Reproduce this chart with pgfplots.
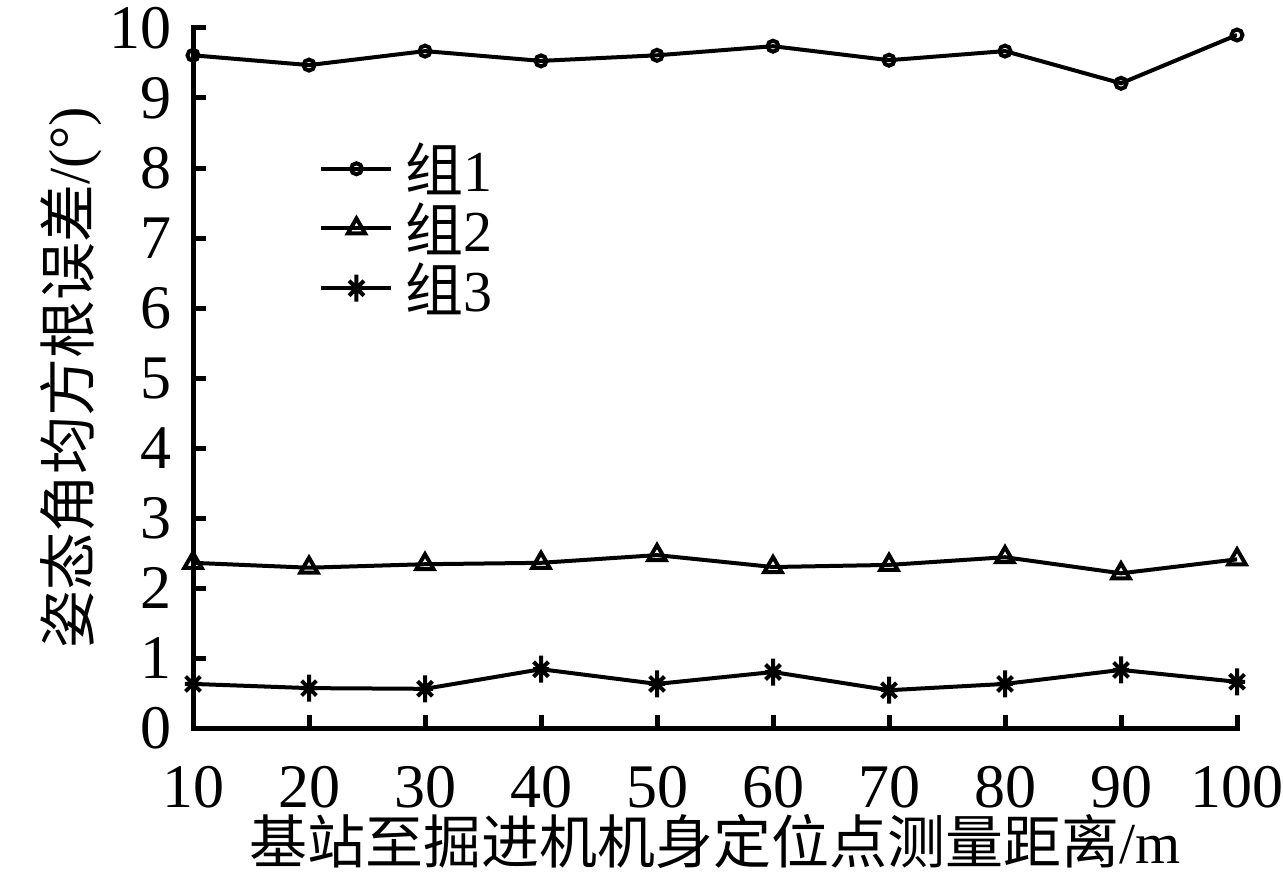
\documentclass[border=0pt]{standalone}
\usepackage{pgfplots}
\pgfplotsset{compat=1.18}
\usepackage{fontspec}
\setmainfont{Liberation Serif}
\newfontfamily\cjk{Noto Sans CJK SC}
\pgfdeclareplotmark{ast8}{%
  \pgfpathmoveto{\pgfqpoint{0pt}{\pgfplotmarksize}}%
  \pgfpathlineto{\pgfqpoint{0pt}{-\pgfplotmarksize}}%
  \pgfpathmoveto{\pgfqpoint{-0.6\pgfplotmarksize}{0pt}}%
  \pgfpathlineto{\pgfqpoint{0.6\pgfplotmarksize}{0pt}}%
  \pgfpathmoveto{\pgfqpoint{-0.55\pgfplotmarksize}{-0.55\pgfplotmarksize}}%
  \pgfpathlineto{\pgfqpoint{0.55\pgfplotmarksize}{0.55\pgfplotmarksize}}%
  \pgfpathmoveto{\pgfqpoint{-0.55\pgfplotmarksize}{0.55\pgfplotmarksize}}%
  \pgfpathlineto{\pgfqpoint{0.55\pgfplotmarksize}{-0.55\pgfplotmarksize}}%
  \pgfusepathqstroke}
\begin{document}
\begin{tikzpicture}
\begin{axis}[
  scale only axis, width=522pt, height=350pt,
  xmin=10, xmax=100, ymin=0, ymax=10,
  xtick={10,20,...,100}, ytick={0,1,...,10},
  axis lines*=left,
  axis line style={line width=2.5pt, line cap=rect},
  tick align=inside,
  major tick length=6.5pt,
  every tick/.style={line width=2.5pt, black},
  tick label style={font=\fontsize{31}{36}\selectfont, inner sep=0.5pt},
  xticklabel style={yshift=-18.5pt},
  yticklabel style={xshift=-9.8pt},
  /pgf/number format/assume math mode=true,
  xlabel={\cjk 基站至掘进机机身定位点测量距离\rmfamily/m},
  ylabel={\cjk 姿态角均方根误差\rmfamily/(°)},
  label style={font=\fontsize{29}{34}\selectfont, inner sep=1pt},
  xlabel style={yshift=-1.5pt},
  ylabel style={yshift=2.2pt},
  legend style={at={(rel axis cs:0.115,0.845)}, anchor=north west, draw=none, fill=none,
    font=\fontsize{29}{34}\selectfont, row sep=2pt, nodes={inner sep=1pt},
    /tikz/every odd column/.append style={column sep=5pt}},
  legend cell align=left,
  legend image code/.code={\draw[#1,mark repeat=2,mark phase=2] plot coordinates {(0pt,0pt)(17.5pt,0pt)(35pt,0pt)};},
  every axis plot/.append style={black, line width=2pt, mark options={solid, line width=2pt}},
]
\addplot[mark=o, mark size=2.75pt] coordinates {
(10,9.61)(20,9.47)(30,9.67)(40,9.53)(50,9.61)(60,9.74)(70,9.54)(80,9.67)(90,9.21)(100,9.90)};
\addlegendentry{{\cjk 组}1}
\addplot[mark=triangle, mark size=5pt] coordinates {
(10,2.36)(20,2.29)(30,2.34)(40,2.36)(50,2.47)(60,2.30)(70,2.33)(80,2.44)(90,2.21)(100,2.41)};
\addlegendentry{{\cjk 组}2}
\addplot[mark=ast8, mark size=6.75pt] coordinates {
(10,0.63)(20,0.57)(30,0.56)(40,0.84)(50,0.63)(60,0.80)(70,0.54)(80,0.63)(90,0.83)(100,0.66)};
\addlegendentry{{\cjk 组}3}
\coordinate (bl) at (rel axis cs:0,0);
\coordinate (tr) at (rel axis cs:1,1);
\end{axis}
\pgfresetboundingbox
\path ([shift={(-96.5pt,-75.5pt)}]bl) rectangle ([shift={(23pt,14pt)}]tr);
\end{tikzpicture}
\end{document}
